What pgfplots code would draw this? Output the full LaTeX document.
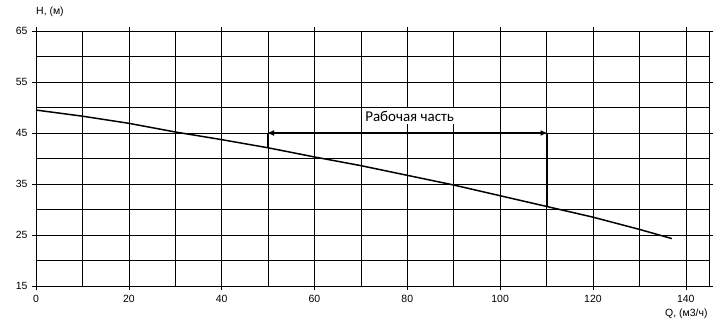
\documentclass[border=0pt]{standalone}
\usepackage{fontspec}
\setmainfont{Liberation Sans}
\newfontfamily\calib{Carlito}
\usepackage{pgfplots}
\pgfplotsset{compat=1.18}
\usetikzlibrary{arrows.meta}
\begin{document}
\begin{tikzpicture}
\useasboundingbox (-36bp,-39bp) rectangle (692bp,286bp);
\begin{axis}[
  scale only axis, width=673bp, height=255bp,
  xmin=0, xmax=145, ymin=15, ymax=65,
  xtick={0,20,...,140}, minor xtick={10,30,...,130},
  ytick={15,25,...,65}, minor ytick={20,30,...,60},
  grid=both,
  major grid style={black, line width=0.6pt},
  minor grid style={black, line width=0.6pt},
  axis line style={black, line width=0.6pt},
  tick align=outside,
  major tick length=4bp, minor tick length=0pt,
  tick style={black, line width=0.6pt},
  tick label style={font=\fontsize{10.5}{12}\selectfont},
  /pgf/number format/assume math mode=true,
  xticklabel style={yshift=-2bp},
  yticklabel style={xshift=-1bp},
  clip=false,
]
\addplot[black, line width=1.5pt] coordinates {
(0,49.5)(10,48.3)(20,46.9)(30,45.2)(40,43.7)(50,42.1)(60,40.3)(70,38.6)(80,36.7)(90,34.8)(100,32.7)(110,30.6)(120,28.5)(130,26.1)(137,24.3)};
\addplot[black, line width=2pt] coordinates {(50,45)(50,42.1)};
\addplot[black, line width=2pt] coordinates {(110,45)(110,30.6)};
\addplot[black, line width=2.3pt, {Latex[length=7bp,width=6bp]}-{Latex[length=7bp,width=6bp]}, shorten <=-1pt, shorten >=-1pt] coordinates {(50,45)(110,45)};
\node[fill=white, inner sep=3bp, font=\calib\fontsize{15}{17}\selectfont] at (axis cs:80.5,48.3) {Рабочая часть};
\node[anchor=west, inner sep=0pt, font=\fontsize{10.5}{12}\selectfont] at ([yshift=19bp]rel axis cs:0,1) {H, (м)};
\node[anchor=west, inner sep=0pt, font=\fontsize{10.5}{12}\selectfont] at ([xshift=629bp,yshift=-28bp]rel axis cs:0,0) {Q, (м3/ч)};
\end{axis}
\end{tikzpicture}
\end{document}
